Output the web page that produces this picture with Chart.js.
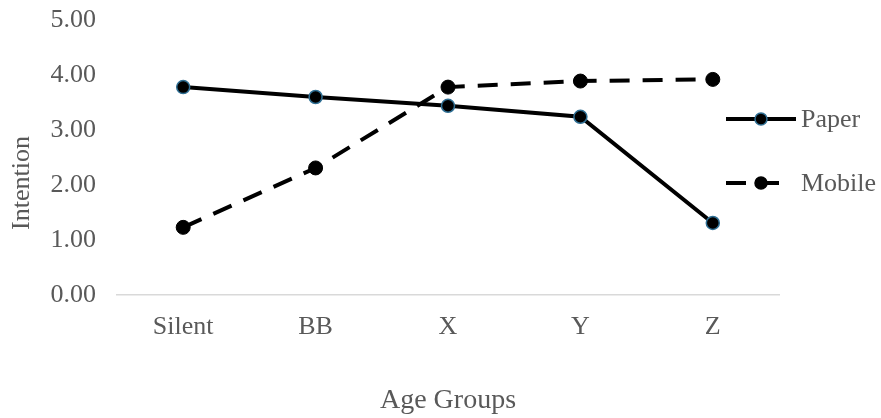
<!DOCTYPE html>
<html>
<head>
<meta charset="utf-8">
<script src="https://cdn.jsdelivr.net/npm/chart.js@4.4.1/dist/chart.umd.min.js"></script>
<style>
  html, body { margin: 0; padding: 0; background: #ffffff; }
  #wrap { width: 881px; height: 418px; position: relative; }
</style>
</head>
<body>
<div id="wrap"><canvas id="chart" width="881" height="418"></canvas></div>
<script>
// Age group categories and mean intention scores per channel
const ageGroups = ['Silent', 'BB', 'X', 'Y', 'Z'];
const paperIntention = [3.78, 3.60, 3.44, 3.24, 1.31];
const mobileIntention = [1.23, 2.31, 3.78, 3.89, 3.92];
const seriesNames = ['Paper', 'Mobile'];
const yTicks = [0, 1, 2, 3, 4, 5];
const yTitle = 'Intention';

const TEXT = '#595959';
const FONT = '"Liberation Serif", "Times New Roman", serif';
const PAPER_RING = '#2f6f94';
const MOBILE_DASH = [20, 13];

// Vertical axis title, placed beside the tick labels
const sideTitle = {
  id: 'sideTitle',
  afterDraw(chart) {
    const ctx = chart.ctx;
    ctx.save();
    ctx.translate(22, 183);
    ctx.rotate(-Math.PI / 2);
    ctx.fillStyle = TEXT;
    ctx.font = '26px ' + FONT;
    ctx.textAlign = 'center';
    ctx.textBaseline = 'middle';
    ctx.fillText(yTitle, 0, 0);
    ctx.restore();
  }
};

// Legend drawn to the right of the plot: line sample with a marker, then the name
const sideLegend = {
  id: 'sideLegend',
  afterDraw(chart) {
    const ctx = chart.ctx;
    const rows = [
      { y: 119, dash: [], ring: PAPER_RING, label: seriesNames[0] },
      { y: 183, dash: MOBILE_DASH, ring: '#000000', label: seriesNames[1] }
    ];
    ctx.save();
    rows.forEach(r => {
      const start = 726, end = r.dash.length ? 781 : 796, mx = 761;
      ctx.beginPath();
      ctx.setLineDash(r.dash);
      ctx.lineWidth = 4;
      ctx.strokeStyle = '#000000';
      ctx.moveTo(start, r.y);
      ctx.lineTo(end, r.y);
      ctx.stroke();
      ctx.setLineDash([]);
      ctx.beginPath();
      ctx.arc(mx, r.y, 6, 0, Math.PI * 2);
      ctx.fillStyle = '#000000';
      ctx.fill();
      ctx.lineWidth = 1.5;
      ctx.strokeStyle = r.ring;
      ctx.stroke();
      ctx.fillStyle = TEXT;
      ctx.font = '26px ' + FONT;
      ctx.textAlign = 'left';
      ctx.textBaseline = 'middle';
      ctx.fillText(r.label, 801, r.y + 1);
    });
    ctx.restore();
  }
};

new Chart(document.getElementById('chart'), {
  type: 'line',
  data: {
    labels: ageGroups,
    datasets: [
      {
        label: seriesNames[0],
        data: paperIntention,
        borderColor: '#000000',
        borderWidth: 4,
        pointRadius: 6.5,
        pointHoverRadius: 6.5,
        pointBackgroundColor: '#000000',
        pointBorderColor: PAPER_RING,
        pointBorderWidth: 1.5,
        tension: 0,
        fill: false
      },
      {
        label: seriesNames[1],
        data: mobileIntention,
        borderColor: '#000000',
        borderWidth: 4,
        borderDash: MOBILE_DASH,
        pointRadius: 7,
        pointHoverRadius: 7,
        pointBackgroundColor: '#000000',
        pointBorderColor: '#000000',
        pointBorderWidth: 1,
        tension: 0,
        fill: false
      }
    ]
  },
  options: {
    responsive: false,
    animation: false,
    layout: { padding: { top: 20, right: 102, bottom: 0, left: 0 } },
    plugins: {
      legend: { display: false },
      tooltip: { enabled: false }
    },
    scales: {
      x: {
        offset: true,
        grid: { display: false, drawTicks: false },
        border: { display: true, color: '#d9d9d9', width: 1.5 },
        ticks: { color: TEXT, font: { family: FONT, size: 26 }, padding: 17, maxRotation: 0 },
        title: {
          display: true, text: 'Age Groups', color: TEXT,
          font: { family: FONT, size: 28 }, padding: { top: 0, bottom: 1 }
        },
        afterFit(s) { s.height = 123; s.paddingLeft = 0; s.paddingRight = 0; }
      },
      y: {
        min: 0, max: 5,
        afterBuildTicks(s) { s.ticks = yTicks.map(v => ({ value: v })); },
        grid: { display: false, drawTicks: false },
        border: { display: false },
        ticks: {
          color: TEXT, font: { family: FONT, size: 26 }, padding: 21,
          callback: v => Number(v).toFixed(2)
        },
        afterFit(s) { s.width = 117; s.paddingTop = 0; s.paddingBottom = 0; }
      }
    }
  },
  plugins: [sideLegend, sideTitle]
});
</script>
</body>
</html>
